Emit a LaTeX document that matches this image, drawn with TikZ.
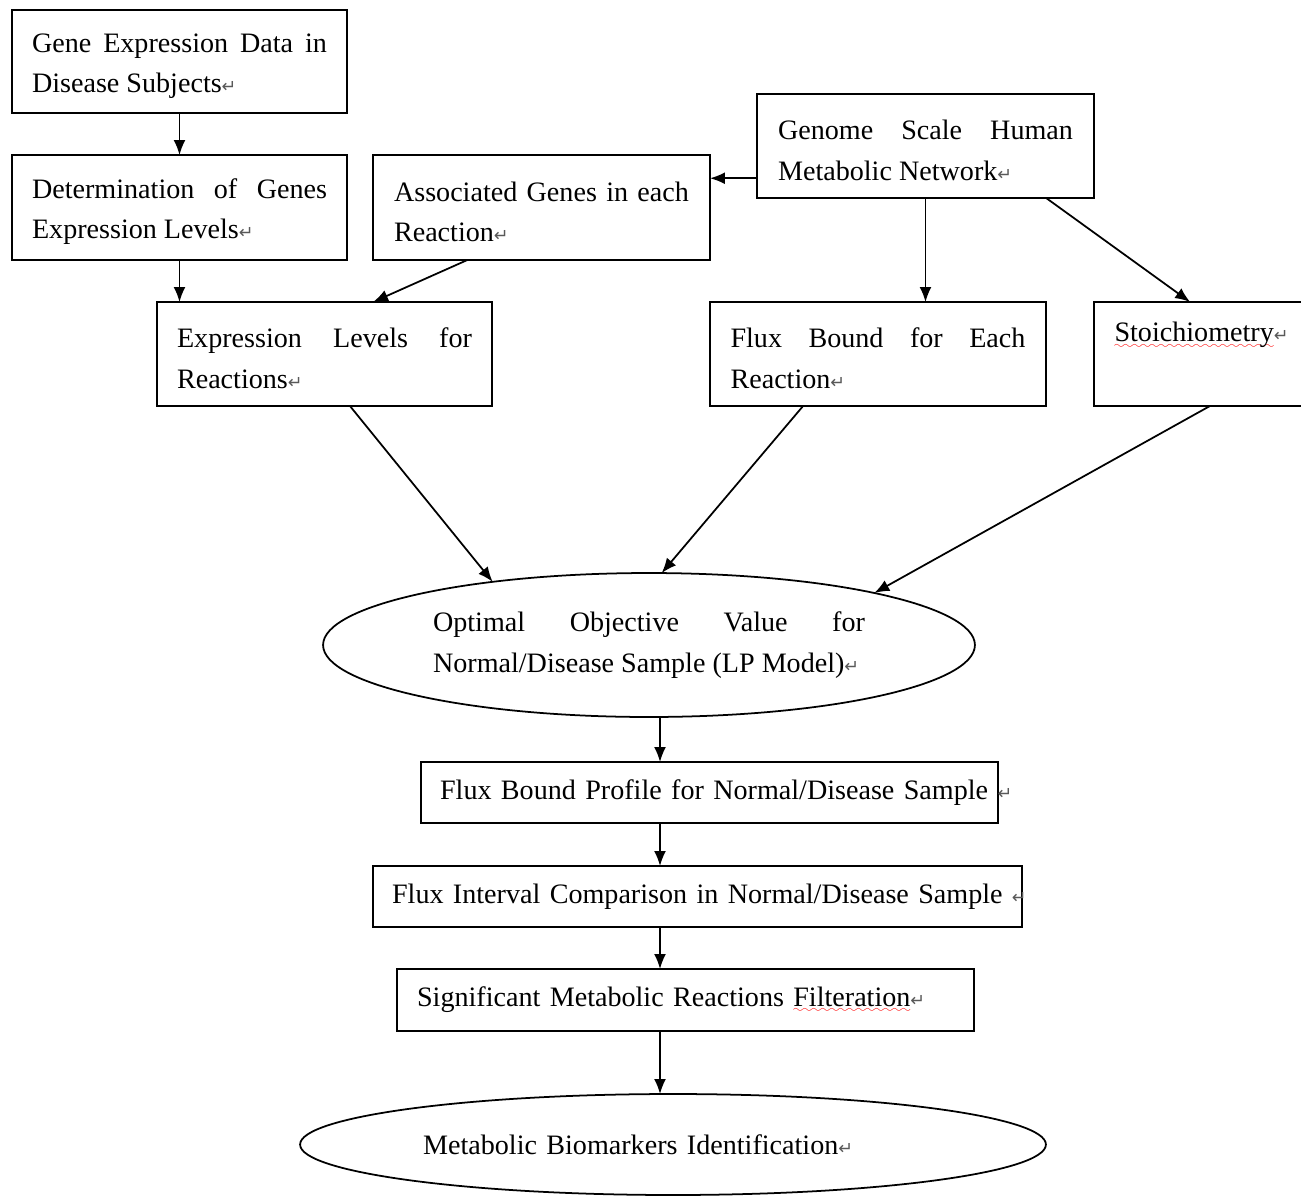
\documentclass[tikz,border=0pt]{standalone}
\usepackage{fontspec}
\setmainfont{Liberation Serif}
\newfontfamily\markfont{DejaVu Sans}
\usetikzlibrary{calc,shapes.geometric,arrows.meta}
\newcommand{\pmark}{{\markfont\fontsize{10}{10}\selectfont\textcolor{black!65}{↵}}}
\font\sixly=lasy6
\newsavebox{\wavebox}
\newcommand{\redwave}[1]{\sbox{\wavebox}{#1}\rlap{\lower3.5pt\hbox to\wd\wavebox{\color{red}\xleaders\hbox{\sixly\char58}\hfil}}\usebox{\wavebox}}

\begin{document}
\begin{tikzpicture}[x=0.02cm,y=-0.02cm,every node/.style={font=\fontsize{16}{23}\selectfont,outer sep=0pt}]

\tikzstyle{stepbox}=[draw,line width=1pt,text width=5.9cm,align=justify,inner xsep=0.4cm,minimum width=6.7cm,minimum height=2.08cm,execute at begin node=\strut]
\tikzstyle{linebox}=[draw,line width=1pt,align=left,inner xsep=0.38cm,minimum height=1.22cm]
\tikzstyle{oval}=[draw,line width=1pt,ellipse,inner sep=0pt]
\tikzstyle{arr}=[-{Latex[length=0.3cm,width=0.24cm]},line width=1pt]

\useasboundingbox (0,0) rectangle (1301,1197);
\clip (0,0) rectangle (1301,1197);

\node[stepbox,minimum height=2.06cm] (gene) at (179.5,61.5) {Gene Expression Data in\linebreak Disease Subjects\pmark};
\node[stepbox,minimum height=2.1cm] (levels) at (179.5,207.5) {Determination of Genes\linebreak Expression Levels\pmark};
\node[stepbox,minimum width=6.74cm,minimum height=2.1cm] (assoc) at (541.5,207.5) {Associated Genes in each\linebreak Reaction\pmark};
\node[stepbox,minimum width=6.74cm] (network) at (925.5,146) {Genome Scale Human\linebreak Metabolic Network\pmark};
\node[stepbox] (rxnlevels) at (324.5,354) {Expression Levels for\linebreak Reactions\pmark};
\node[stepbox,minimum width=6.72cm] (fluxbound) at (878,354) {Flux Bound for Each\linebreak Reaction\pmark};
\node[stepbox,minimum width=6.72cm] (stoich) at (1262,354) {\redwave{Stoichiometry}\pmark\hfill\linebreak\strut};

\node[oval,minimum width=13.04cm,minimum height=2.88cm,text width=8.64cm,align=justify] (lp) at (649,645) {Optimal Objective Value for\linebreak Normal/Disease Sample (LP Model)\pmark};

\node[linebox,text width=10.78cm] (profile) at (709.5,792.5) {\mbox{Flux Bound Profile for Normal/Disease Sample \pmark}};
\node[linebox,text width=12.22cm] (interval) at (697.5,896.5) {\mbox{Flux Interval Comparison in Normal/Disease Sample \pmark}};
\node[linebox,text width=10.74cm,inner xsep=0.4cm,minimum height=1.24cm] (filter) at (685.5,1000) {Significant Metabolic Reactions \redwave{Filteration}\pmark};

\node[oval,minimum width=14.92cm,minimum height=2.02cm,text width=10cm,align=left] (biomark) at (673,1144.5) {Metabolic Biomarkers Identification\pmark};

% arrows
\coordinate (netout) at ($(network.south west)!0.19!(network.north west)$);
\coordinate (spine) at (660,0);
\draw[arr] (gene) -- (levels);
\draw[arr] (levels.south) -- (levels.south |- rxnlevels.north);
\draw[arr] (netout) -- (netout -| assoc.east);
\draw[arr] ($(assoc.south west)!0.28!(assoc.south east)$) -- ($(rxnlevels.north west)!0.645!(rxnlevels.north east)$);
\draw[arr] (network.south) -- (network.south |- fluxbound.north);
\draw[arr] ($(network.south west)!0.858!(network.south east)$) -- ($(stoich.north west)!0.286!(stoich.north east)$);
\draw[arr] ($(rxnlevels.south west)!0.576!(rxnlevels.south east)$) -- (lp.158);
\draw[arr] ($(fluxbound.south west)!0.277!(fluxbound.south east)$) -- (lp.80);
\draw[arr] ($(stoich.south west)!0.345!(stoich.south east)$) -- (lp.13);
\foreach \a/\b in {lp/profile,profile/interval,interval/filter,filter/biomark}
    \draw[arr] (spine |- \a.south) -- (spine |- \b.north);
\end{tikzpicture}
\end{document}
